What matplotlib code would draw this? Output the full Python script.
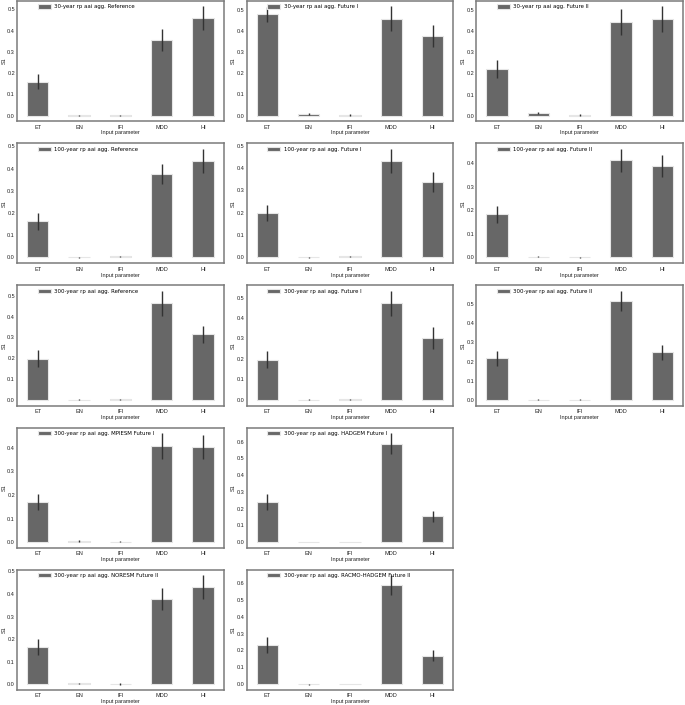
import matplotlib
matplotlib.use('Agg')
import matplotlib.pyplot as plt
import numpy as np

plt.rcParams['font.family'] = ['Liberation Sans', 'DejaVu Sans']

params = ['ET', 'EN', 'IFI', 'MDD', 'HI']

# (S1 value, confidence half-width) per panel
s1_30_ref = [0.160, 0.002, 0.002, 0.356, 0.458]
conf_30_ref = [0.036, 0.002, 0.002, 0.050, 0.056]
s1_30_f1 = [0.478, 0.006, 0.002, 0.458, 0.377]
conf_30_f1 = [0.037, 0.004, 0.003, 0.058, 0.052]
s1_30_f2 = [0.222, 0.011, 0.003, 0.441, 0.455]
conf_30_f2 = [0.043, 0.005, 0.003, 0.060, 0.060]

s1_100_ref = [0.161, -0.001, 0.003, 0.375, 0.435]
conf_100_ref = [0.038, 0.003, 0.003, 0.047, 0.055]
s1_100_f1 = [0.197, -0.001, 0.003, 0.434, 0.338]
conf_100_f1 = [0.036, 0.003, 0.003, 0.054, 0.047]
s1_100_f2 = [0.182, 0.004, 0.001, 0.410, 0.387]
conf_100_f2 = [0.037, 0.004, 0.003, 0.050, 0.047]

s1_300_ref = [0.197, -0.001, 0.002, 0.465, 0.315]
conf_300_ref = [0.041, 0.002, 0.002, 0.060, 0.040]
s1_300_f1 = [0.195, 0.000, 0.001, 0.472, 0.303]
conf_300_f1 = [0.041, 0.003, 0.002, 0.061, 0.053]
s1_300_f2 = [0.217, 0.001, 0.000, 0.517, 0.248]
conf_300_f2 = [0.040, 0.003, 0.002, 0.053, 0.040]

s1_mpiesm_f1 = [0.172, 0.005, 0.002, 0.406, 0.403]
conf_mpiesm_f1 = [0.034, 0.003, 0.002, 0.055, 0.050]
s1_hadgem_f1 = [0.240, 0.000, 0.000, 0.588, 0.153]
conf_hadgem_f1 = [0.047, 0.002, 0.001, 0.063, 0.032]

s1_noresm_f2 = [0.165, 0.004, 0.002, 0.378, 0.430]
conf_noresm_f2 = [0.037, 0.003, 0.003, 0.048, 0.053]
s1_racmo_f2 = [0.232, 0.000, 0.002, 0.587, 0.169]
conf_racmo_f2 = [0.046, 0.002, 0.002, 0.058, 0.034]

panels = [
    ['30-year rp aai agg. Reference', s1_30_ref, conf_30_ref],
    ['30-year rp aai agg. Future I', s1_30_f1, conf_30_f1],
    ['30-year rp aai agg. Future II', s1_30_f2, conf_30_f2],
    ['100-year rp aai agg. Reference', s1_100_ref, conf_100_ref],
    ['100-year rp aai agg. Future I', s1_100_f1, conf_100_f1],
    ['100-year rp aai agg. Future II', s1_100_f2, conf_100_f2],
    ['300-year rp aai agg. Reference', s1_300_ref, conf_300_ref],
    ['300-year rp aai agg. Future I', s1_300_f1, conf_300_f1],
    ['300-year rp aai agg. Future II', s1_300_f2, conf_300_f2],
    ['300-year rp aai agg. MPIESM Future I', s1_mpiesm_f1, conf_mpiesm_f1],
    ['300-year rp aai agg. HADGEM Future I', s1_hadgem_f1, conf_hadgem_f1],
    None,
    ['300-year rp aai agg. NORESM Future II', s1_noresm_f2, conf_noresm_f2],
    ['300-year rp aai agg. RACMO-HADGEM Future II', s1_racmo_f2, conf_racmo_f2],
    None,
]

W, H = 685, 705
fig = plt.figure(figsize=(W / 100, H / 100), dpi=100)
fig.subplots_adjust(left=17 / W, right=683 / W, top=1 - 1 / H, bottom=1 - 690 / H,
                    wspace=0.111, hspace=0.183)
gs = fig.add_gridspec(5, 3)

FS = 4.0
x = np.arange(len(params))
for i, p in enumerate(panels):
    if p is None:
        continue
    ax = fig.add_subplot(gs[i // 3, i % 3])
    label, vals, errs = p
    ax.bar(x, vals, width=0.52, color='#676767', edgecolor='#e6e6e6', linewidth=0.8,
           yerr=errs, error_kw=dict(ecolor='#333333', elinewidth=1.0, capsize=0),
           label=label)
    ax.use_sticky_edges = False
    ax.set_xlim(-0.5, len(params) - 0.5)
    ax.autoscale(axis='y')
    ax.set_xticks(x)
    ax.set_xticklabels(params)
    ax.tick_params(axis='both', length=0, labelsize=FS, colors='#222222')
    ax.tick_params(axis='x', pad=2.5)
    ax.tick_params(axis='y', pad=1.5)
    ax.set_xlabel('Input parameter', fontsize=FS, labelpad=0.5, color='#222222')
    ax.set_ylabel('S1', fontsize=FS, labelpad=0.5, color='#222222')
    for s in ax.spines.values():
        s.set_color('#7a7a7a')
        s.set_linewidth(1.1)
    ax.legend(loc='upper left', bbox_to_anchor=(0.09, 0.99), borderaxespad=0,
              frameon=False, handlelength=2.4, handleheight=0.8,
              handletextpad=0.6, prop={'family': 'DejaVu Sans', 'size': FS - 0.1})

fig.savefig('out.png', dpi=100)
